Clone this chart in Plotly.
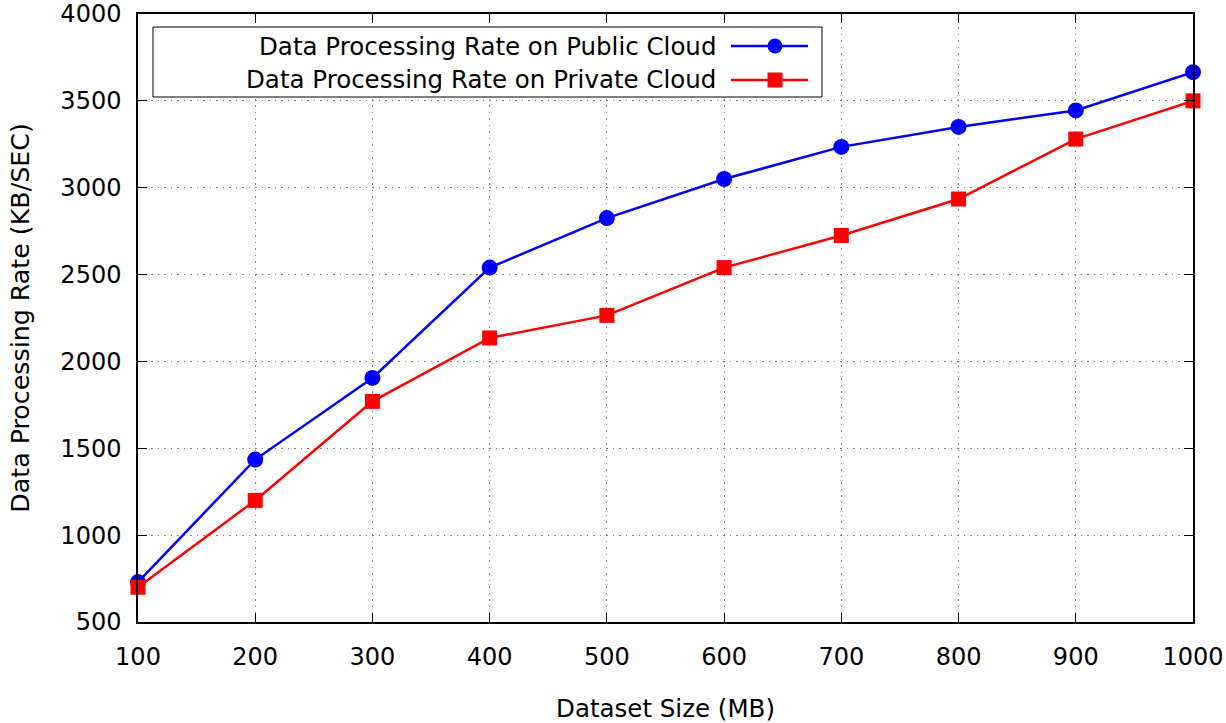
import plotly.graph_objects as go

dataset_size = [100, 200, 300, 400, 500, 600, 700, 800, 900, 1000]
public_rate = [730, 1435, 1905, 2540, 2825, 3050, 3235, 3350, 3445, 3665]
private_rate = [700, 1200, 1770, 2135, 2265, 2540, 2725, 2935, 3280, 3500]
series_names = ["Data Processing Rate on Public Cloud", "Data Processing Rate on Private Cloud"]
x_ticks = [100, 200, 300, 400, 500, 600, 700, 800, 900, 1000]
y_ticks = [500, 1000, 1500, 2000, 2500, 3000, 3500, 4000]

FONT = "DejaVu Sans, Verdana, sans-serif"
TICK_SIZE = 24
LEG_SIZE = 24.5
XT_SIZE = 24.5
YT_SIZE = 25.3
L, R, T, B = 138, 33, 14, 101
W, H = 1226, 723
pw, ph = W - L - R, H - T - B

def px(x):
    return (x - L) / pw

def py(y):
    return (H - B - y) / ph

fig = go.Figure()
fig.add_trace(go.Scatter(x=dataset_size, y=public_rate, mode="lines+markers",
                         name=series_names[0], line=dict(color="#0000ff", width=2.5),
                         marker=dict(symbol="circle", size=16, color="#0000ff"),
                         showlegend=False, cliponaxis=False))
fig.add_trace(go.Scatter(x=dataset_size, y=private_rate, mode="lines+markers",
                         name=series_names[1], line=dict(color="#ff0000", width=2.5),
                         marker=dict(symbol="square", size=15, color="#ff0000"),
                         showlegend=False, cliponaxis=False))

axis_common = dict(showline=True, linecolor="black", linewidth=1.5, mirror="allticks",
                   ticks="inside", ticklen=9, tickcolor="black", tickwidth=1,
                   showgrid=True, gridcolor="#808080", griddash="1.5px,5px", gridwidth=1.2,
                   zeroline=False, automargin=False,
                   tickfont=dict(family=FONT, size=TICK_SIZE, color="black"))

fig.update_xaxes(range=[100, 1000], tickvals=x_ticks, ticklabelstandoff=12,
                 title=dict(text="Dataset Size (MB)", font=dict(family=FONT, size=XT_SIZE, color="black"), standoff=30),
                 **axis_common)
fig.update_yaxes(range=[500, 4000], tickvals=y_ticks, ticklabelstandoff=10,
                 title=dict(text="Data Processing Rate (KB/SEC)", font=dict(family=FONT, size=YT_SIZE, color="black"), standoff=24),
                 **axis_common)

# legend box (gnuplot-style, samples on the right)
shapes = [dict(type="rect", xref="paper", yref="paper", x0=px(153), x1=px(822), y0=py(97), y1=py(27),
               line=dict(color="black", width=1), fillcolor="white", layer="above")]
annotations = []
rows = [(46, "#0000ff", "circle"), (80, "#ff0000", "square")]
for (yy, col, sym), name in zip(rows, series_names):
    annotations.append(dict(xref="paper", yref="paper", x=px(718), y=py(yy), xanchor="right", yanchor="middle",
                            text=name, showarrow=False, font=dict(family=FONT, size=LEG_SIZE, color="black")))
    shapes.append(dict(type="line", xref="paper", yref="paper", x0=px(731), x1=px(808), y0=py(yy), y1=py(yy),
                       line=dict(color=col, width=2.5), layer="above"))
    r = 7.5
    shapes.append(dict(type="circle" if sym == "circle" else "rect", xref="paper", yref="paper",
                       x0=px(775 - r), x1=px(775 + r), y0=py(yy + r), y1=py(yy - r),
                       line=dict(color=col, width=0), fillcolor=col, layer="above"))

fig.update_layout(width=W, height=H, margin=dict(l=L, r=R, t=T, b=B, autoexpand=False),
                  paper_bgcolor="white", plot_bgcolor="white",
                  font=dict(family=FONT, size=TICK_SIZE, color="black"),
                  shapes=shapes, annotations=annotations)

fig.write_html("out.html")
